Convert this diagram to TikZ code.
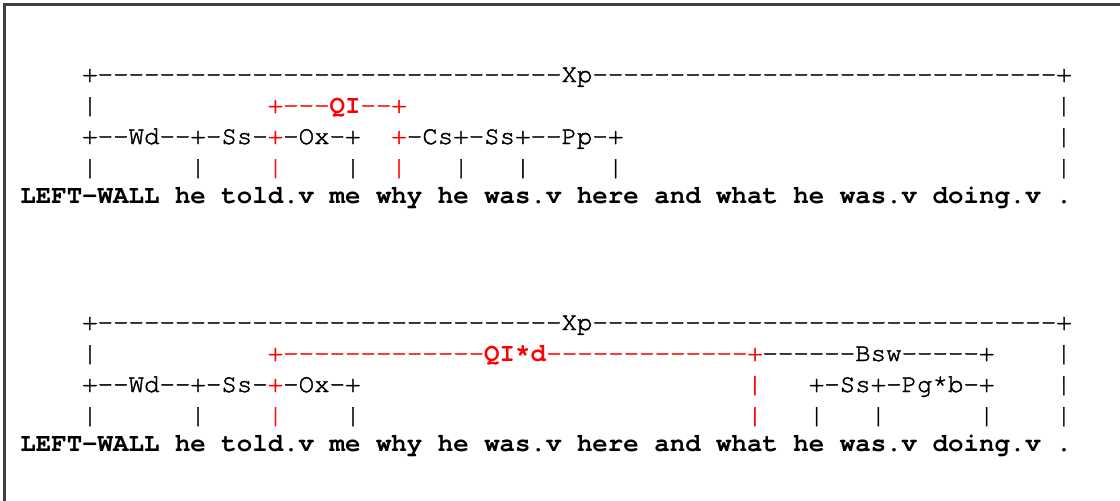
\documentclass[tikz,border=0pt]{standalone}
\usepackage{fontspec}
\setmonofont{texgyrecursor}[Extension=.otf, UprightFont=*-regular, BoldFont=*-bold, UprightFeatures={FakeBold=1.6}]
\tikzset{
  txt/.style={anchor=base west, inner sep=0pt, outer sep=0pt,
    font=\ttfamily\fontsize{25.77}{31}\selectfont, text=black},
  hl/.style={text=red},
  frameline/.style={line width=2.5pt, draw=black!75}
}
\newcommand\putseg[5][]{\node[txt,#1] (#2) at ({20.4+15.46*#3},{-#4}) {#5};}
\newcommand\tenD{----------}
\begin{document}
\begin{tikzpicture}[x=1pt,y=1pt]
\useasboundingbox (0,0) rectangle (1120,-501);
\draw[frameline] (4.5,-501) -- (4.5,-4.5) -- (1120,-4.5);
% ---------------- diagram 1 ----------------
\putseg{aXp}{4}{82}{+\tenD\tenD\tenD Xp\tenD\tenD\tenD+}
\putseg{aL2a}{4}{113}{|}
\putseg[hl]{aQI}{16}{113}{+---\textbf{QI}--+}
\putseg{aL2b}{67}{113}{|}
\putseg{aL3a}{4}{144}{+--Wd--+-Ss-}
\putseg[hl]{aL3b}{16}{144}{+}
\putseg{aL3c}{17}{144}{-Ox-+}
\putseg[hl]{aL3d}{24}{144}{+}
\putseg{aL3e}{25}{144}{-Cs+-Ss+--Pp-+}
\putseg{aL3f}{67}{144}{|}
\putseg{aV1}{4}{175}{|}
\putseg{aV2}{11}{175}{|}
\putseg[hl]{aV3}{16}{175}{|}
\putseg{aV4}{21}{175}{|}
\putseg[hl]{aV5}{24}{175}{|}
\putseg{aV6}{28}{175}{|}
\putseg{aV7}{32}{175}{|}
\putseg{aV8}{38}{175}{|}
\putseg{aV9}{67}{175}{|}
\putseg{aW}{0}{203}{\textbf{LEFT-WALL he told.v me why he was.v here and what he was.v doing.v .}}
% ---------------- diagram 2 ----------------
\putseg{bXp}{4}{330}{+\tenD\tenD\tenD Xp\tenD\tenD\tenD+}
\putseg{bL2a}{4}{361}{|}
\putseg[hl]{bQI}{16}{361}{+\tenD---\textbf{QI*d}\tenD---+}
\putseg{bBsw}{48}{361}{------Bsw-----+}
\putseg{bL2b}{67}{361}{|}
\putseg{bL3a}{4}{392}{+--Wd--+-Ss-}
\putseg[hl]{bL3b}{16}{392}{+}
\putseg{bL3c}{17}{392}{-Ox-+}
\putseg[hl]{bL3d}{47}{392}{|}
\putseg{bL3e}{51}{392}{+-Ss+-Pg*b-+}
\putseg{bL3f}{67}{392}{|}
\putseg{bV1}{4}{423}{|}
\putseg{bV2}{11}{423}{|}
\putseg[hl]{bV3}{16}{423}{|}
\putseg{bV4}{21}{423}{|}
\putseg[hl]{bV5}{47}{423}{|}
\putseg{bV6}{51}{423}{|}
\putseg{bV7}{55}{423}{|}
\putseg{bV8}{62}{423}{|}
\putseg{bV9}{67}{423}{|}
\putseg{bW}{0}{451}{\textbf{LEFT-WALL he told.v me why he was.v here and what he was.v doing.v .}}
\end{tikzpicture}
\end{document}
